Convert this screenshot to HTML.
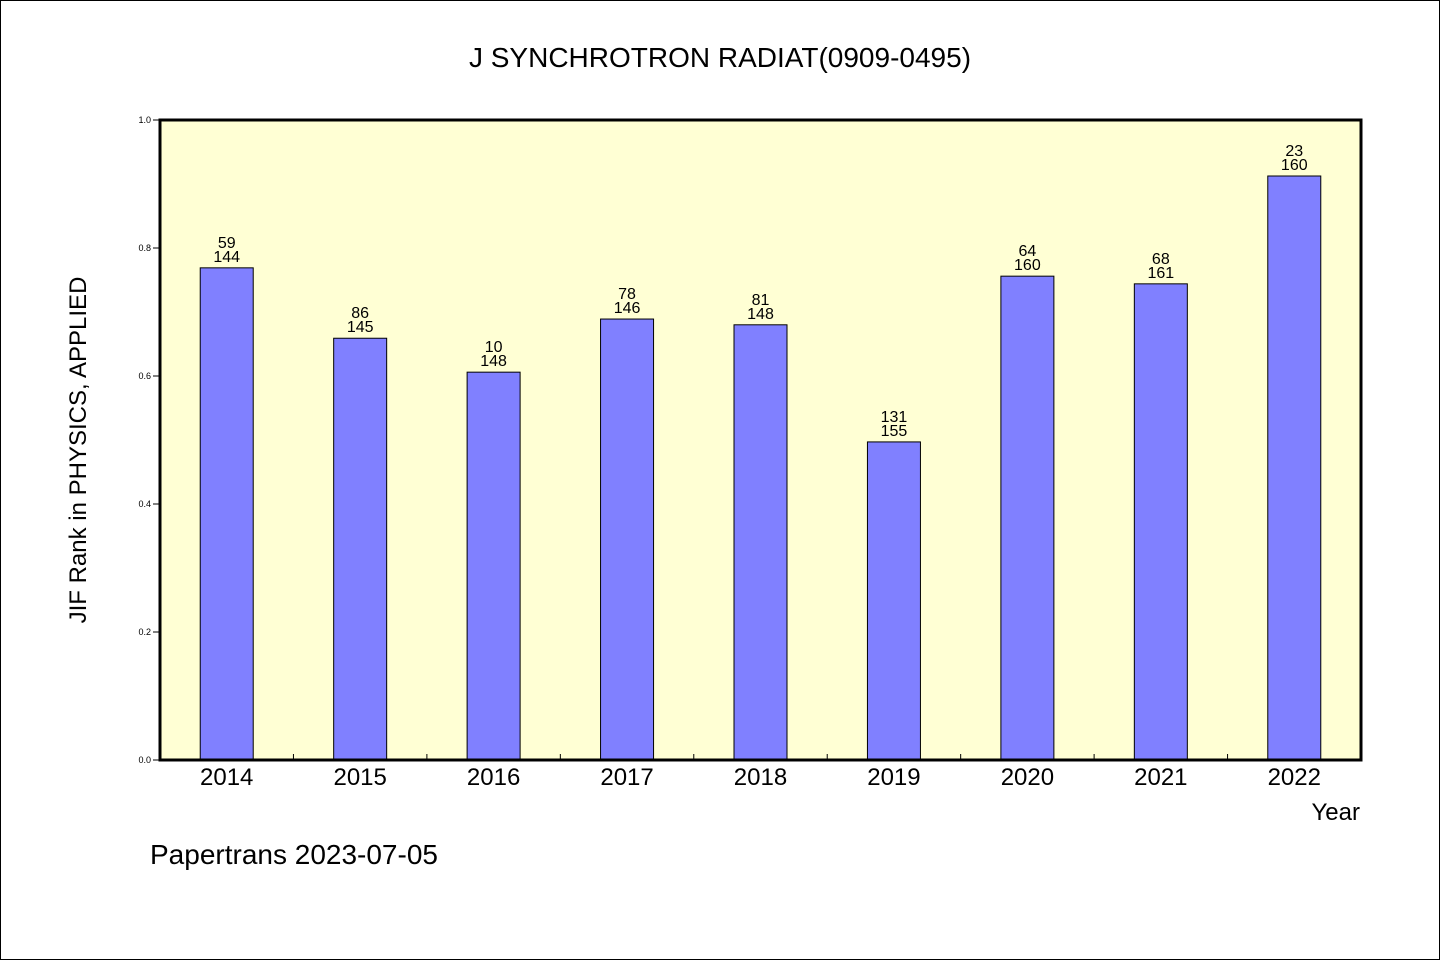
<!DOCTYPE html>
<html><head><meta charset="utf-8"><style>
body{margin:0;background:#fff}
svg text{font-family:"WenQuanYi Zen Hei","Liberation Sans",sans-serif}
</style></head><body>
<svg width="1440" height="960" xmlns="http://www.w3.org/2000/svg">
<rect x="0.5" y="0.5" width="1439" height="959" fill="#fff" stroke="#000"/>
<text x="720" y="67" font-size="28" text-anchor="middle">J SYNCHROTRON RADIAT(0909-0495)</text>
<rect x="160" y="120" width="1201" height="640" fill="#ffffd4"/>
<g id="bars"></g>
<rect x="160" y="120" width="1201" height="640" fill="none" stroke="#000" stroke-width="3"/>
<text transform="translate(86,450) rotate(-90)" font-size="24" text-anchor="middle">JIF Rank in PHYSICS, APPLIED</text>
<text x="1360" y="820" font-size="24" text-anchor="end">Year</text>
<text x="150" y="864" font-size="28">Papertrans 2023-07-05</text>
</svg>
<script>
const years=["2014","2015","2016","2017","2018","2019","2020","2021","2022"];
const values=[0.769,0.659,0.606,0.689,0.680,0.497,0.756,0.744,0.9125];
const ranks=["59","86","10","78","81","131","64","68","23"];
const totals=["144","145","148","146","148","155","160","161","160"];
const yTicks=[0,0.2,0.4,0.6,0.8,1.0];
const ns="http://www.w3.org/2000/svg";
const g=document.getElementById('bars');
const X0=160,W=1201,Y0=760,H=640;
const slot=W/years.length;
const xc=i=>X0+slot*(i+0.5);
const ys=v=>Y0-v*H;
function mk(t,a){const e=document.createElementNS(ns,t);for(const k in a)e.setAttribute(k,a[k]);g.appendChild(e);return e;}
yTicks.forEach(v=>{
 const l=mk('line',{x1:153,x2:160,y1:ys(v),y2:ys(v),stroke:'#000'});
 
 
 const t=mk('text',{x:151,y:ys(v)+3,'font-size':9,'text-anchor':'end'});t.textContent=v.toFixed(1);
 
 
});
years.forEach((y,i)=>{
 const bw=53,cx=xc(i);
 const r=mk('rect',{x:cx-bw/2,y:ys(values[i]),width:bw,height:Y0-ys(values[i]),fill:'#8080ff',stroke:'#000','stroke-width':1});
 
 
 const a=mk('text',{x:cx,y:ys(values[i])-20,'font-size':16,'text-anchor':'middle'});a.textContent=ranks[i];
 
 
 const b=mk('text',{x:cx,y:ys(values[i])-6,'font-size':16,'text-anchor':'middle'});b.textContent=totals[i];
 
 
 const t=mk('text',{x:cx,y:785,'font-size':24,'text-anchor':'middle'});t.textContent=y;
 
 
 if(i>0){const l=mk('line',{x1:X0+slot*i,x2:X0+slot*i,y1:760,y2:754,stroke:'#000'});
 
 }
});
</script>
</body></html>
